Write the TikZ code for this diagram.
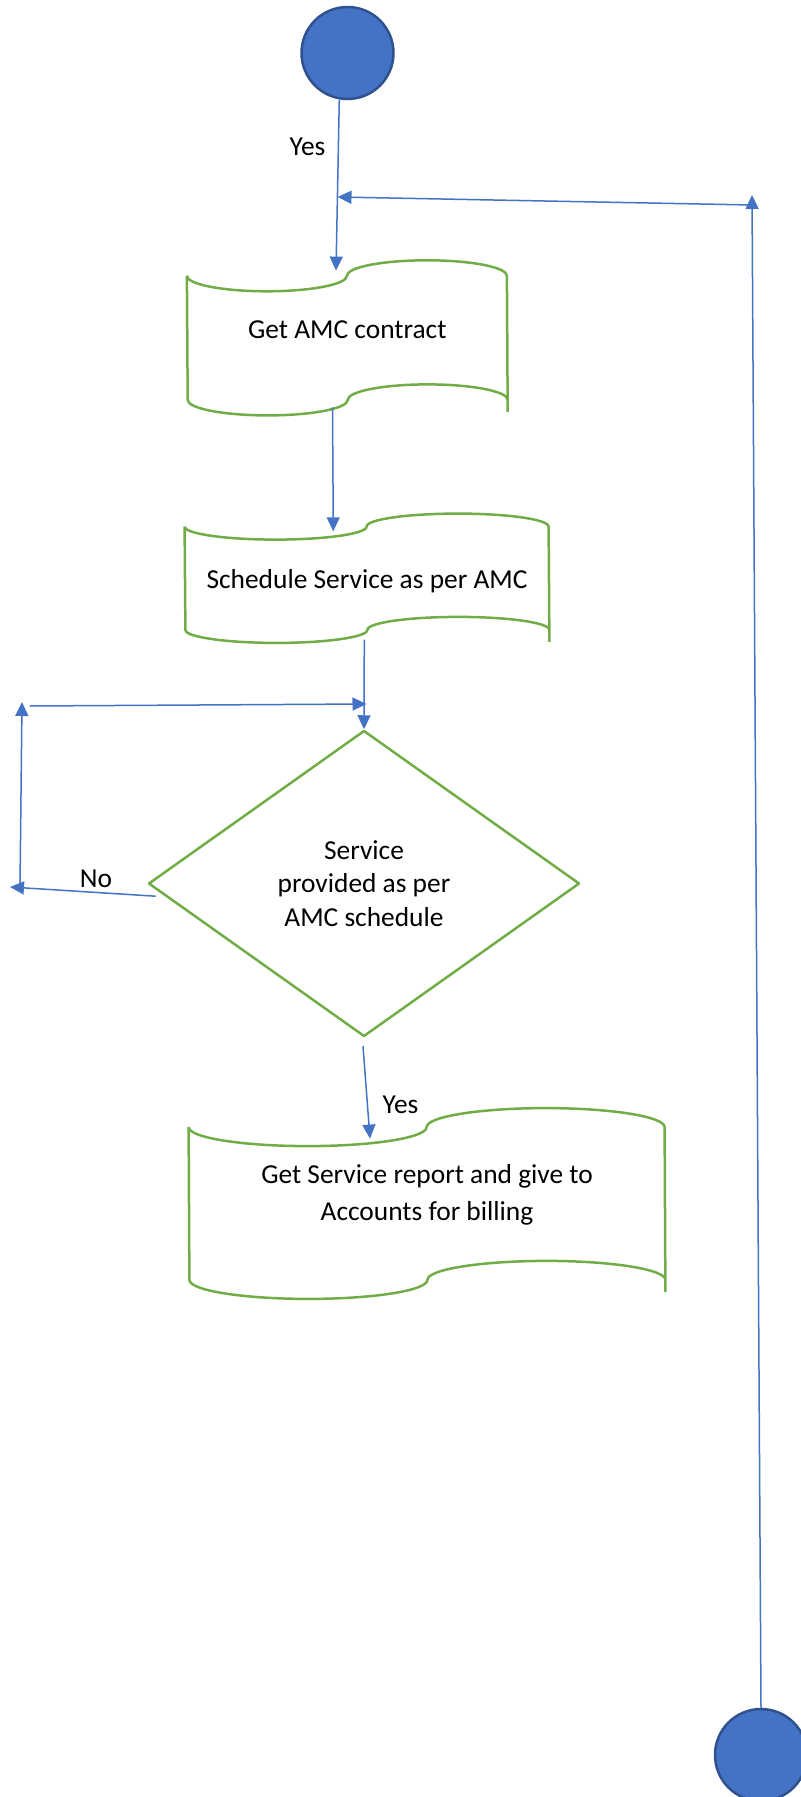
\documentclass[tikz,border=0pt]{standalone}
\usepackage{fontspec}
\setmainfont{Carlito}
\usetikzlibrary{shapes.geometric,arrows.meta,calc}
\definecolor{lineblue}{HTML}{4472C4}
\definecolor{dotblue}{HTML}{4472C4}
\definecolor{dotrim}{HTML}{2F528F}
\definecolor{boxgreen}{HTML}{70AD47}
\tikzset{
  dot/.style={circle,fill=dotblue,draw=dotrim,line width=1.25pt,minimum size=46pt,inner sep=0pt},
  flow/.style={rectangle,inner sep=0pt,align=center,font=\fontsize{13.7}{18.3}\selectfont},
  edge/.style={draw=boxgreen,line width=1.25pt,line join=round},
  choice/.style={diamond,edge,inner sep=0pt,align=center,font=\fontsize{13.7}{16.7}\selectfont},
  conn/.style={draw=lineblue,line width=0.75pt,-{Triangle[length=7pt,width=6.5pt]}},
  tag/.style={font=\fontsize{13.7}{16}\selectfont,inner sep=0pt}
}
% punched tape outline round a node: #1 node, #2 quarter width, #3 bend
\newcommand{\wavebox}[3]{%
  \draw[edge] (#1.north west) arc (180:360:#2 and #3) arc (180:0:#2 and #3)
     -- ([yshift=-6pt]#1.south east) (#1.south east) arc (0:180:#2 and #3)
     arc (0:-180:#2 and #3) -- (#1.north west);}
\begin{document}
\begin{tikzpicture}[x=0.5pt,y=-0.5pt]
\useasboundingbox (0,0) rectangle (801,1797);

   \node[dot] (start) at (347.5, 53){};
   \node[dot] (stop) at (761, 1755){};

   \node[flow, minimum width=160pt, minimum height=61.65pt,
         text height=4.5pt, text depth=4pt] (amc) at (347.3, 337.85){Get AMC contract};
      \wavebox{amc}{40pt}{7.75pt}
   \node[flow, minimum width=182pt, minimum height=51.25pt,
         text height=10pt, text depth=0pt] (sched) at (367, 578.25){Schedule Service as per AMC};
      \wavebox{sched}{45.5pt}{6.5pt}
   \node[choice, minimum width=215.5pt, minimum height=153pt] (check) at (364, 883.5)
         {Service\\provided as per\\AMC schedule};
   \node[flow, minimum width=238pt, minimum height=76pt,
         text height=20pt, text depth=3.5pt] (report) at (427, 1203.5)
         {Get Service report and give to\\Accounts for billing};
      \wavebox{report}{59.5pt}{9.5pt}

      \node[tag] (yes1) at (307.5, 147){Yes};
      \node[tag] (no) at (96, 879){No};
      \node[tag] (yes2) at (400.5, 1105){Yes};

   \coordinate (join) at (337.5, 197);
   \coordinate (ret) at (752, 195);
   \coordinate (nolow) at (10, 887);
   \coordinate (loopbot) at (20, 887);
   \coordinate (looptop) at (22, 702);
   \coordinate (loopstart) at (30, 706);
   \coordinate (merge) at (366.5, 704);

   \draw[conn] (start.260) to ($(amc.north)+(-11.3,-5.2)$);
   \draw[conn] (stop.north) to (ret);
   \draw[conn] ([yshift=-5pt]ret) to (join);
   \draw[conn] ($(amc.south)+(-14.8,7.5)$) to ($(sched.north)+(-33.7,4.7)$);
   \draw[conn] ($(sched.south)+(-2.7,9.8)$) to (check.north);
   \draw[conn] ($(check.west)+(8.4,12.7)$) to (nolow);
   \draw[conn] (loopbot) to (looptop);
   \draw[conn] (loopstart) to (merge);
   \draw[conn] ($(check.south)+(-1,8.3)$) to ($(report.north)+(-57,11.5)$);

\end{tikzpicture}
\end{document}
